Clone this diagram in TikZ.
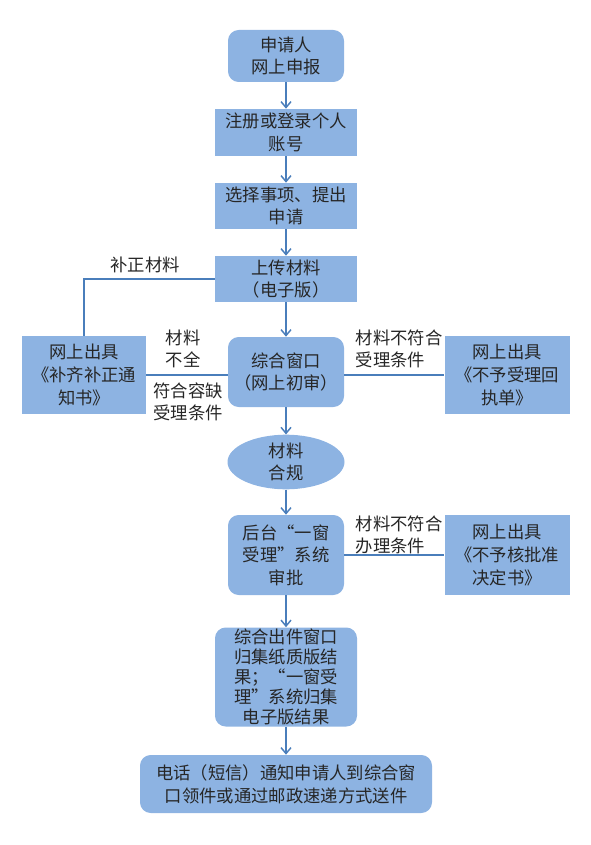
\documentclass[tikz,border=0pt]{standalone}
\usepackage{fontspec}
\setmainfont{Noto Sans CJK SC}
\usetikzlibrary{shapes.geometric, arrows.meta, positioning}
\definecolor{colorCaja}{HTML}{8DB3E2}
\definecolor{colorLinea}{HTML}{4A7EBB}

\begin{document}
\begin{tikzpicture}[x=0.75pt, y=-0.75pt, font=\fontsize{13}{17}\selectfont,
        >={Straight Barb[length=4.5pt, width=7.5pt]},
        bx/.style={fill=colorCaja, inner sep=0pt, align=center, text=black!85},
        rd/.style={bx, rounded corners=8pt},
        tr/.style={->, colorLinea, line width=1.1pt},
        ln/.style={colorLinea, line width=1.1pt},
        lb/.style={align=center, text=black!85}]
        \useasboundingbox (0,0) rectangle (590,845);
        \node[rd, minimum width=87pt, minimum height=39pt] (sq) at (286,56) {申请人\\网上申报};
        \node[bx, minimum width=106.5pt, minimum height=35.25pt] (zc) at (286,132.5) {注册或登录个人\\账号};
        \node[bx, minimum width=106.5pt, minimum height=34.5pt] (xz) at (286,206) {选择事项、提出\\申请};
        \node[bx, minimum width=106.5pt, minimum height=34.5pt] (sc) at (286,279) {上传材料\\（电子版）};
        \node[rd, minimum width=87pt, minimum height=52.5pt] (ck) at (286,372) {综合窗口\\（网上初审）};
        \node[bx, minimum width=93pt, minimum height=58.5pt, left=61pt of ck, yshift=-2.25pt] (bz) {网上出具\\《补齐补正通\\知书》};
        \node[bx, minimum width=93.75pt, minimum height=58.5pt, right=75pt of ck, yshift=-2.25pt] (bsl) {网上出具\\《不予受理回\\执单》};
        \node[bx, ellipse, minimum width=87.75pt, minimum height=40.5pt] (hg) at (286,462) {材料\\合规};
        \node[rd, minimum width=87pt, minimum height=60pt] (sp) at (286,555) {后台“一窗\\受理”系统\\审批};
        \node[bx, minimum width=93.75pt, minimum height=60pt, right=75pt of sp] (bhp) {网上出具\\《不予核批准\\决定书》};
        \node[rd, minimum width=106.5pt, minimum height=74.25pt, font=\fontsize{13}{15}\selectfont] (gj) at (286,677) {综合出件窗口\\归集纸质版结\\果；“一窗受\\理”系统归集\\电子版结果};
        \node[rd, minimum width=219pt, minimum height=43.5pt] (tz) at (286,784) {电话（短信）通知申请人到综合窗\\口领件或通过邮政速递方式送件};
        % labels on the side lines
        \node[lb] (bzcl) at (145,265) {补正材料};
        \node[lb] (bq) at (183,349) {材料\\不全};
        \node[lb] (rq) at (188,402) {符合容缺\\受理条件};
        \node[lb, anchor=west, align=left] (slt) at (351,349) {材料不符合\\受理条件};
        \node[lb, anchor=west, align=left] (blt) at (351,535) {材料不符合\\办理条件};
        % main flow
        \draw[tr] (sq) -- (zc);
        \draw[tr] (zc) -- (xz);
        \draw[tr] (xz) -- (sc);
        \draw[tr] (sc) -- (ck);
        \draw[tr] (ck) -- (hg);
        \draw[tr] (hg) -- (sp);
        \draw[tr] (sp) -- (gj);
        \draw[tr] (gj) -- (tz);
        % side branches
        \draw[ln] (bz.east) -- (bz.east -| ck.west);
        \draw[ln] (bz.north) |- (sc.west);
        \draw[ln] (bsl.west -| ck.east) -- (bsl.west);
        \draw[ln] (sp) -- (bhp);
\end{tikzpicture}
\end{document}
